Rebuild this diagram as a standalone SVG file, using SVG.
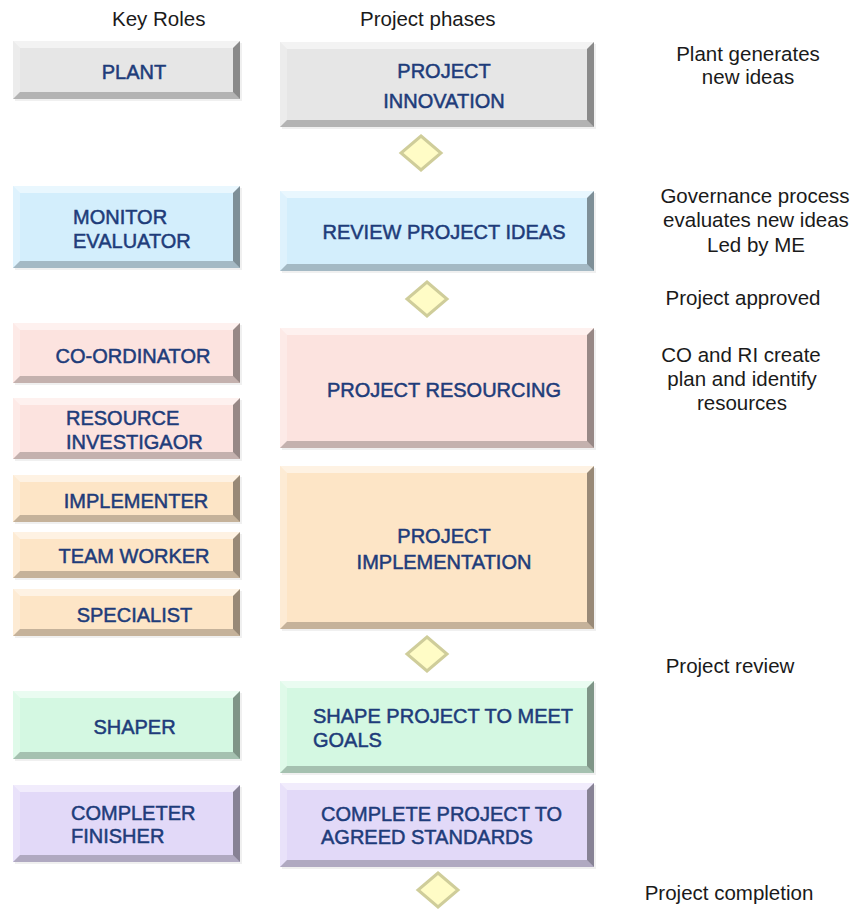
<svg xmlns="http://www.w3.org/2000/svg" width="852" height="909" viewBox="0 0 852 909">
<defs>
<style>
.hdr{font-family:"Liberation Sans",Arial,sans-serif;font-size:20.5px;fill:#1a1a1a}
.note{font-family:"Liberation Sans",Arial,sans-serif;font-size:20.5px;fill:#1a1a1a;text-anchor:middle}
.lbl{font-family:"Liberation Sans",Arial,sans-serif;font-size:20px;fill:#1e3c7a;stroke:#1e3c7a;stroke-width:0.5px}
.c{text-anchor:middle}
.hi{fill:#ffffff;fill-opacity:0.5}
.hl{fill:#ffffff;fill-opacity:0.25}
.dr{fill:#000000;fill-opacity:0.4}
.db{fill:#000000;fill-opacity:0.22}
.gray{fill:#e6e6e6}
.blue{fill:#d3eefc}
.pink{fill:#fce3df}
.peach{fill:#fde5c6}
.green{fill:#d4f8e2}
.purple{fill:#e2d9f8}
.dia{fill:#fffcc6;stroke:#cfcd9a;stroke-width:3;stroke-linejoin:miter}
.sh{fill:#000;fill-opacity:0.06}
</style>
</defs>
<rect width="852" height="909" fill="#ffffff"/>
<text class="hdr" x="112" y="26">Key Roles</text>
<text class="hdr" x="360" y="26">Project phases</text>

<!-- Left role boxes -->
<g id="plant">
<rect class="sh" x="15" y="43" width="227" height="58"/>
<rect class="gray" x="13" y="41" width="227" height="58"/>
<polygon class="hi" points="13,41 240,41 233,48 20,48"/>
<polygon class="hl" points="13,41 20,48 20,92 13,99"/>
<polygon class="dr" points="240,41 240,99 233,92 233,48"/>
<polygon class="db" points="13,99 20,92 233,92 240,99"/>
<text class="lbl c" x="134" y="79">PLANT</text>
</g>
<g id="monitor-evaluator">
<rect class="sh" x="15" y="188" width="227" height="82"/>
<rect class="blue" x="13" y="186" width="227" height="82"/>
<polygon class="hi" points="13,186 240,186 233,193 20,193"/>
<polygon class="hl" points="13,186 20,193 20,261 13,268"/>
<polygon class="dr" points="240,186 240,268 233,261 233,193"/>
<polygon class="db" points="13,268 20,261 233,261 240,268"/>
<text class="lbl" x="73" y="224">MONITOR</text>
<text class="lbl" x="73" y="248">EVALUATOR</text>
</g>
<g id="co-ordinator">
<rect class="sh" x="15" y="325" width="227" height="60"/>
<rect class="pink" x="13" y="323" width="227" height="60"/>
<polygon class="hi" points="13,323 240,323 233,330 20,330"/>
<polygon class="hl" points="13,323 20,330 20,376 13,383"/>
<polygon class="dr" points="240,323 240,383 233,376 233,330"/>
<polygon class="db" points="13,383 20,376 233,376 240,383"/>
<text class="lbl c" x="133" y="363">CO-ORDINATOR</text>
</g>
<g id="resource-investigator">
<rect class="sh" x="15" y="400" width="227" height="61"/>
<rect class="pink" x="13" y="398" width="227" height="61"/>
<polygon class="hi" points="13,398 240,398 233,405 20,405"/>
<polygon class="hl" points="13,398 20,405 20,452 13,459"/>
<polygon class="dr" points="240,398 240,459 233,452 233,405"/>
<polygon class="db" points="13,459 20,452 233,452 240,459"/>
<text class="lbl" x="66" y="425">RESOURCE</text>
<text class="lbl" x="66" y="449">INVESTIGAOR</text>
</g>
<g id="implementer">
<rect class="sh" x="15" y="477" width="227" height="47"/>
<rect class="peach" x="13" y="475" width="227" height="47"/>
<polygon class="hi" points="13,475 240,475 233,482 20,482"/>
<polygon class="hl" points="13,475 20,482 20,515 13,522"/>
<polygon class="dr" points="240,475 240,522 233,515 233,482"/>
<polygon class="db" points="13,522 20,515 233,515 240,522"/>
<text class="lbl c" x="136" y="508">IMPLEMENTER</text>
</g>
<g id="team-worker">
<rect class="sh" x="15" y="534" width="227" height="46"/>
<rect class="peach" x="13" y="532" width="227" height="46"/>
<polygon class="hi" points="13,532 240,532 233,539 20,539"/>
<polygon class="hl" points="13,532 20,539 20,571 13,578"/>
<polygon class="dr" points="240,532 240,578 233,571 233,539"/>
<polygon class="db" points="13,578 20,571 233,571 240,578"/>
<text class="lbl c" x="134" y="563">TEAM WORKER</text>
</g>
<g id="specialist">
<rect class="sh" x="15" y="591" width="227" height="47"/>
<rect class="peach" x="13" y="589" width="227" height="47"/>
<polygon class="hi" points="13,589 240,589 233,596 20,596"/>
<polygon class="hl" points="13,589 20,596 20,629 13,636"/>
<polygon class="dr" points="240,589 240,636 233,629 233,596"/>
<polygon class="db" points="13,636 20,629 233,629 240,636"/>
<text class="lbl c" x="134.5" y="622">SPECIALIST</text>
</g>
<g id="shaper">
<rect class="sh" x="15" y="693" width="227" height="68"/>
<rect class="green" x="13" y="691" width="227" height="68"/>
<polygon class="hi" points="13,691 240,691 233,698 20,698"/>
<polygon class="hl" points="13,691 20,698 20,752 13,759"/>
<polygon class="dr" points="240,691 240,759 233,752 233,698"/>
<polygon class="db" points="13,759 20,752 233,752 240,759"/>
<text class="lbl c" x="134.5" y="734">SHAPER</text>
</g>
<g id="completer-finisher">
<rect class="sh" x="15" y="787" width="227" height="77"/>
<rect class="purple" x="13" y="785" width="227" height="77"/>
<polygon class="hi" points="13,785 240,785 233,792 20,792"/>
<polygon class="hl" points="13,785 20,792 20,855 13,862"/>
<polygon class="dr" points="240,785 240,862 233,855 233,792"/>
<polygon class="db" points="13,862 20,855 233,855 240,862"/>
<text class="lbl" x="71" y="820">COMPLETER</text>
<text class="lbl" x="71" y="843">FINISHER</text>
</g>

<!-- Right phase boxes -->
<g id="project-innovation">
<rect class="sh" x="282" y="44" width="314" height="85"/>
<rect class="gray" x="280" y="42" width="314" height="85"/>
<polygon class="hi" points="280,42 594,42 587,49 287,49"/>
<polygon class="hl" points="280,42 287,49 287,120 280,127"/>
<polygon class="dr" points="594,42 594,127 587,120 587,49"/>
<polygon class="db" points="280,127 287,120 587,120 594,127"/>
<text class="lbl c" x="444" y="78">PROJECT</text>
<text class="lbl c" x="444" y="108">INNOVATION</text>
</g>
<g id="review-project-ideas">
<rect class="sh" x="282" y="193" width="314" height="80"/>
<rect class="blue" x="280" y="191" width="314" height="80"/>
<polygon class="hi" points="280,191 594,191 587,198 287,198"/>
<polygon class="hl" points="280,191 287,198 287,264 280,271"/>
<polygon class="dr" points="594,191 594,271 587,264 587,198"/>
<polygon class="db" points="280,271 287,264 587,264 594,271"/>
<text class="lbl c" x="444" y="239">REVIEW PROJECT IDEAS</text>
</g>
<g id="project-resourcing">
<rect class="sh" x="282" y="330" width="314" height="120"/>
<rect class="pink" x="280" y="328" width="314" height="120"/>
<polygon class="hi" points="280,328 594,328 587,335 287,335"/>
<polygon class="hl" points="280,328 287,335 287,441 280,448"/>
<polygon class="dr" points="594,328 594,448 587,441 587,335"/>
<polygon class="db" points="280,448 287,441 587,441 594,448"/>
<text class="lbl c" x="444" y="397">PROJECT RESOURCING</text>
</g>
<g id="project-implementation">
<rect class="sh" x="282" y="468" width="314" height="163"/>
<rect class="peach" x="280" y="466" width="314" height="163"/>
<polygon class="hi" points="280,466 594,466 587,473 287,473"/>
<polygon class="hl" points="280,466 287,473 287,622 280,629"/>
<polygon class="dr" points="594,466 594,629 587,622 587,473"/>
<polygon class="db" points="280,629 287,622 587,622 594,629"/>
<text class="lbl c" x="444" y="543">PROJECT</text>
<text class="lbl c" x="444" y="569">IMPLEMENTATION</text>
</g>
<g id="shape-project">
<rect class="sh" x="282" y="683" width="314" height="92"/>
<rect class="green" x="280" y="681" width="314" height="92"/>
<polygon class="hi" points="280,681 594,681 587,688 287,688"/>
<polygon class="hl" points="280,681 287,688 287,766 280,773"/>
<polygon class="dr" points="594,681 594,773 587,766 587,688"/>
<polygon class="db" points="280,773 287,766 587,766 594,773"/>
<text class="lbl" x="313" y="723">SHAPE PROJECT TO MEET</text>
<text class="lbl" x="313" y="747">GOALS</text>
</g>
<g id="complete-project">
<rect class="sh" x="282" y="785" width="314" height="84"/>
<rect class="purple" x="280" y="783" width="314" height="84"/>
<polygon class="hi" points="280,783 594,783 587,790 287,790"/>
<polygon class="hl" points="280,783 287,790 287,860 280,867"/>
<polygon class="dr" points="594,783 594,867 587,860 587,790"/>
<polygon class="db" points="280,867 287,860 587,860 594,867"/>
<text class="lbl" x="321" y="821">COMPLETE PROJECT TO</text>
<text class="lbl" x="321" y="844">AGREED STANDARDS</text>
</g>

<!-- Milestone diamonds -->
<g id="milestones">
<polygon id="m1" class="dia" points="421,136 441,153 421,170 401,153"/>
<polygon id="m2" class="dia" points="427,282 447,299 427,316 407,299"/>
<polygon id="m3" class="dia" points="427,637 447,654 427,671 407,654"/>
<polygon id="m4" class="dia" points="438,873 458,890 438,907 418,890"/>
</g>

<!-- Annotations -->
<g id="notes">
<text class="note" x="748" y="61">Plant generates</text>
<text class="note" x="748" y="84">new ideas</text>
<text class="note" x="755" y="203">Governance process</text>
<text class="note" x="756" y="227">evaluates new ideas</text>
<text class="note" x="756" y="252">Led by ME</text>
<text class="note" x="743" y="305">Project approved</text>
<text class="note" x="741" y="362">CO and RI create</text>
<text class="note" x="742" y="386">plan and identify</text>
<text class="note" x="742" y="410">resources</text>
<text class="note" x="730" y="673">Project review</text>
<text class="note" x="729" y="900">Project completion</text>
</g>
<g id="connectors"></g>
</svg>
